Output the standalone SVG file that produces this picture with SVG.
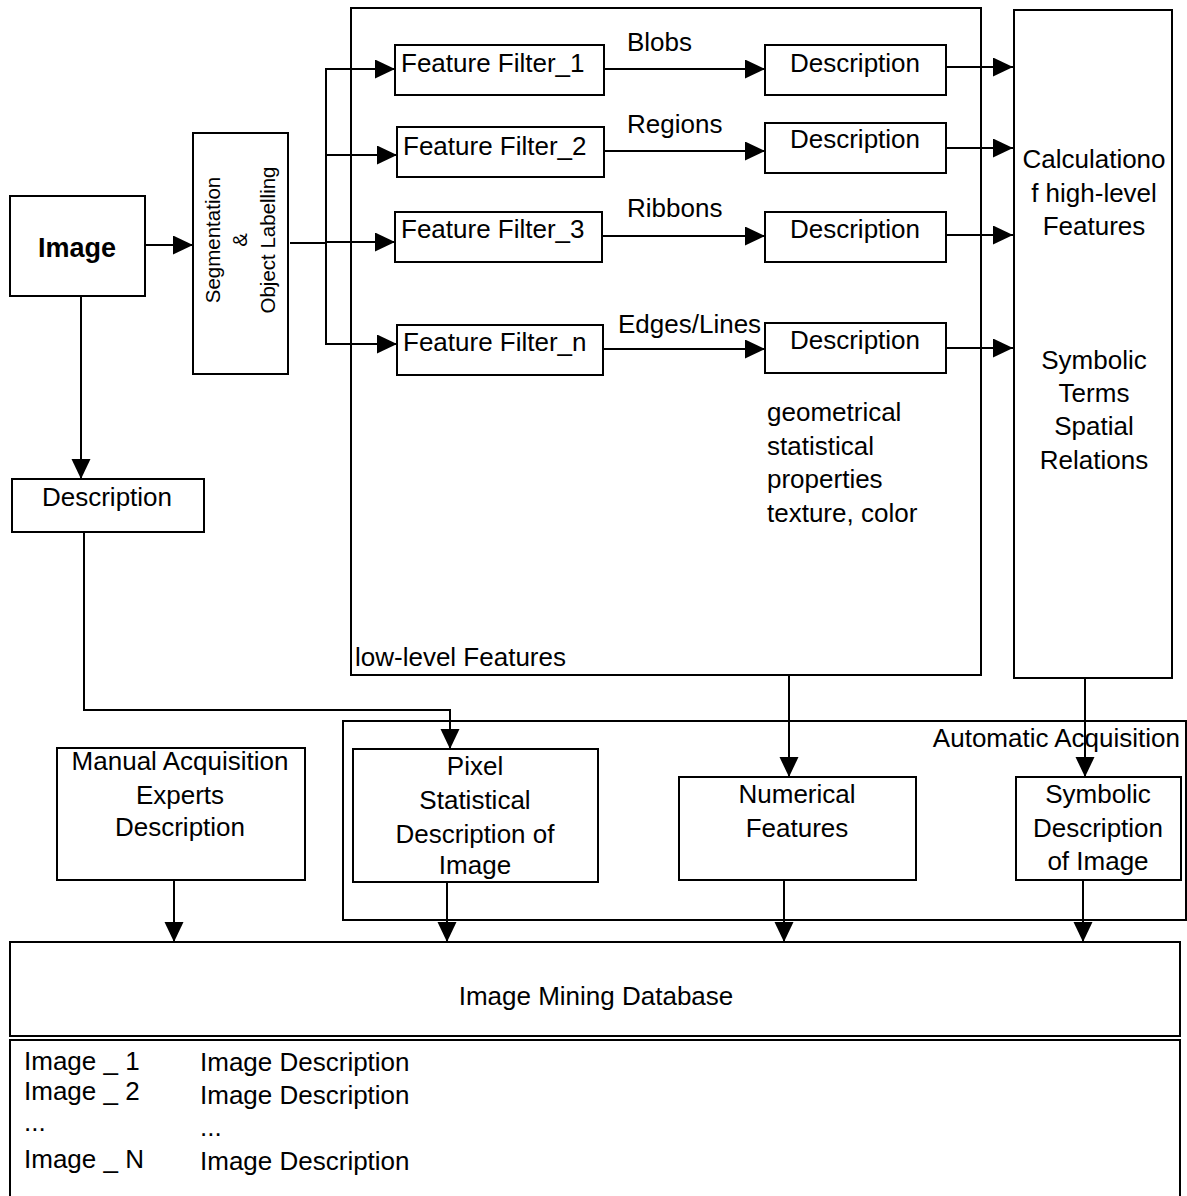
<svg xmlns="http://www.w3.org/2000/svg" width="1187" height="1196" viewBox="0 0 1187 1196">
<defs>
<marker id="ah" markerUnits="userSpaceOnUse" markerWidth="20" markerHeight="20" refX="20" refY="9.5" orient="auto">
<path d="M0,0 L20,9.5 L0,19 z" fill="#000"/>
</marker>
<style>
rect{fill:none;stroke:#000;stroke-width:2}
.c line,.c polyline{fill:none;stroke:#000;stroke-width:2}
.a{marker-end:url(#ah)}
text{font-family:"Liberation Sans",Arial,sans-serif;font-size:26px;fill:#000}
.m{text-anchor:middle}
.e{text-anchor:end}
.b{font-weight:bold;font-size:27px}
.r{font-size:20.5px;text-anchor:middle}
</style>
</defs>
<rect x="0" y="0" width="1187" height="1196" style="fill:#fff;stroke:none"/>

<g id="lowlevel"><rect x="351" y="8" width="630" height="667"/><text x="355" y="666">low-level Features</text>
<text x="767" y="421">geometrical</text><text x="767" y="455">statistical</text><text x="767" y="488">properties</text><text x="767" y="522">texture, color</text></g>
<g id="highlevel"><rect x="1014" y="10" width="158" height="668"/>
<text class="m" x="1094" y="168">Calculationo</text><text class="m" x="1094" y="202">f high-level</text><text class="m" x="1094" y="235">Features</text>
<text class="m" x="1094" y="369">Symbolic</text><text class="m" x="1094" y="402">Terms</text><text class="m" x="1094" y="435">Spatial</text><text class="m" x="1094" y="469">Relations</text></g>
<g id="auto"><rect x="343" y="721" width="843" height="199"/><text class="e" x="1180" y="747">Automatic Acquisition</text></g>

<g id="image"><rect x="10" y="196" width="135" height="100"/><text class="m b" x="77" y="257">Image</text></g>
<g id="seg"><rect x="193" y="133" width="95" height="241"/>
<text class="r" transform="translate(220 240) rotate(-90)">Segmentation</text>
<text class="r" transform="translate(247 240) rotate(-90)">&amp;</text>
<text class="r" transform="translate(275 240) rotate(-90)">Object Labelling</text></g>

<g id="ff1"><rect x="395" y="45" width="209" height="50"/><text x="401" y="72">Feature Filter_1</text></g>
<g id="ff2"><rect x="397" y="127" width="207" height="50"/><text x="403" y="155">Feature Filter_2</text></g>
<g id="ff3"><rect x="395" y="212" width="207" height="50"/><text x="401" y="238">Feature Filter_3</text></g>
<g id="ffn"><rect x="397" y="325" width="206" height="50"/><text x="403" y="351">Feature Filter_n</text></g>

<g id="d1"><rect x="765" y="45" width="181" height="50"/><text class="m" x="855" y="72">Description</text></g>
<g id="d2"><rect x="765" y="123" width="181" height="50"/><text class="m" x="855" y="148">Description</text></g>
<g id="d3"><rect x="765" y="212" width="181" height="50"/><text class="m" x="855" y="238">Description</text></g>
<g id="dn"><rect x="765" y="323" width="181" height="50"/><text class="m" x="855" y="349">Description</text></g>

<g id="ldesc"><rect x="12" y="479" width="192" height="53"/><text class="m" x="107" y="506">Description</text></g>

<g id="manual"><rect x="57" y="748" width="248" height="132"/>
<text class="m" x="180" y="770">Manual Acquisition</text><text class="m" x="180" y="804">Experts</text><text class="m" x="180" y="836">Description</text></g>
<g id="pixel"><rect x="353" y="749" width="245" height="133"/>
<text class="m" x="475" y="775">Pixel</text><text class="m" x="475" y="809">Statistical</text><text class="m" x="475" y="843">Description of</text><text class="m" x="475" y="874">Image</text></g>
<g id="numerical"><rect x="679" y="777" width="237" height="103"/>
<text class="m" x="797" y="803">Numerical</text><text class="m" x="797" y="837">Features</text></g>
<g id="symbolic"><rect x="1016" y="777" width="165" height="103"/>
<text class="m" x="1098" y="803">Symbolic</text><text class="m" x="1098" y="837">Description</text><text class="m" x="1098" y="870">of Image</text></g>

<g id="db"><rect x="10" y="942" width="1170" height="94"/><text class="m" x="596" y="1005">Image Mining Database</text></g>
<g id="list"><rect x="10" y="1040" width="1170" height="180"/>
<text x="24" y="1070">Image _ 1</text><text x="200" y="1071">Image Description</text>
<text x="24" y="1100">Image _ 2</text><text x="200" y="1104">Image Description</text>
<text x="24" y="1131">...</text><text x="200" y="1136">...</text>
<text x="24" y="1168">Image _ N</text><text x="200" y="1170">Image Description</text></g>

<g id="labels"><text x="627" y="51">Blobs</text><text x="627" y="133">Regions</text><text x="627" y="217">Ribbons</text><text x="618" y="333">Edges/Lines</text></g>

<g class="c" id="connectors">
<line class="a" x1="145" y1="245" x2="193" y2="245"/>
<line class="a" x1="81" y1="296" x2="81" y2="479"/>
<line x1="290" y1="243" x2="326" y2="243"/>
<line x1="326" y1="68" x2="326" y2="345"/>
<line class="a" x1="325" y1="69" x2="395" y2="69"/>
<line class="a" x1="325" y1="155" x2="397" y2="155"/>
<line class="a" x1="325" y1="242" x2="395" y2="242"/>
<line class="a" x1="325" y1="344" x2="397" y2="344"/>
<line class="a" x1="604" y1="69" x2="765" y2="69"/>
<line class="a" x1="604" y1="151" x2="765" y2="151"/>
<line class="a" x1="602" y1="236" x2="765" y2="236"/>
<line class="a" x1="603" y1="349" x2="765" y2="349"/>
<line class="a" x1="946" y1="67" x2="1013" y2="67"/>
<line class="a" x1="946" y1="148" x2="1013" y2="148"/>
<line class="a" x1="946" y1="235" x2="1013" y2="235"/>
<line class="a" x1="946" y1="348" x2="1013" y2="348"/>
<polyline class="a" points="84,532 84,710 450,710 450,749"/>
<line class="a" x1="789" y1="675" x2="789" y2="777"/>
<line class="a" x1="1085" y1="678" x2="1085" y2="777"/>
<line class="a" x1="174" y1="880" x2="174" y2="942"/>
<line class="a" x1="447" y1="882" x2="447" y2="942"/>
<line class="a" x1="784" y1="880" x2="784" y2="942"/>
<line class="a" x1="1083" y1="880" x2="1083" y2="942"/>
</g>
</svg>
